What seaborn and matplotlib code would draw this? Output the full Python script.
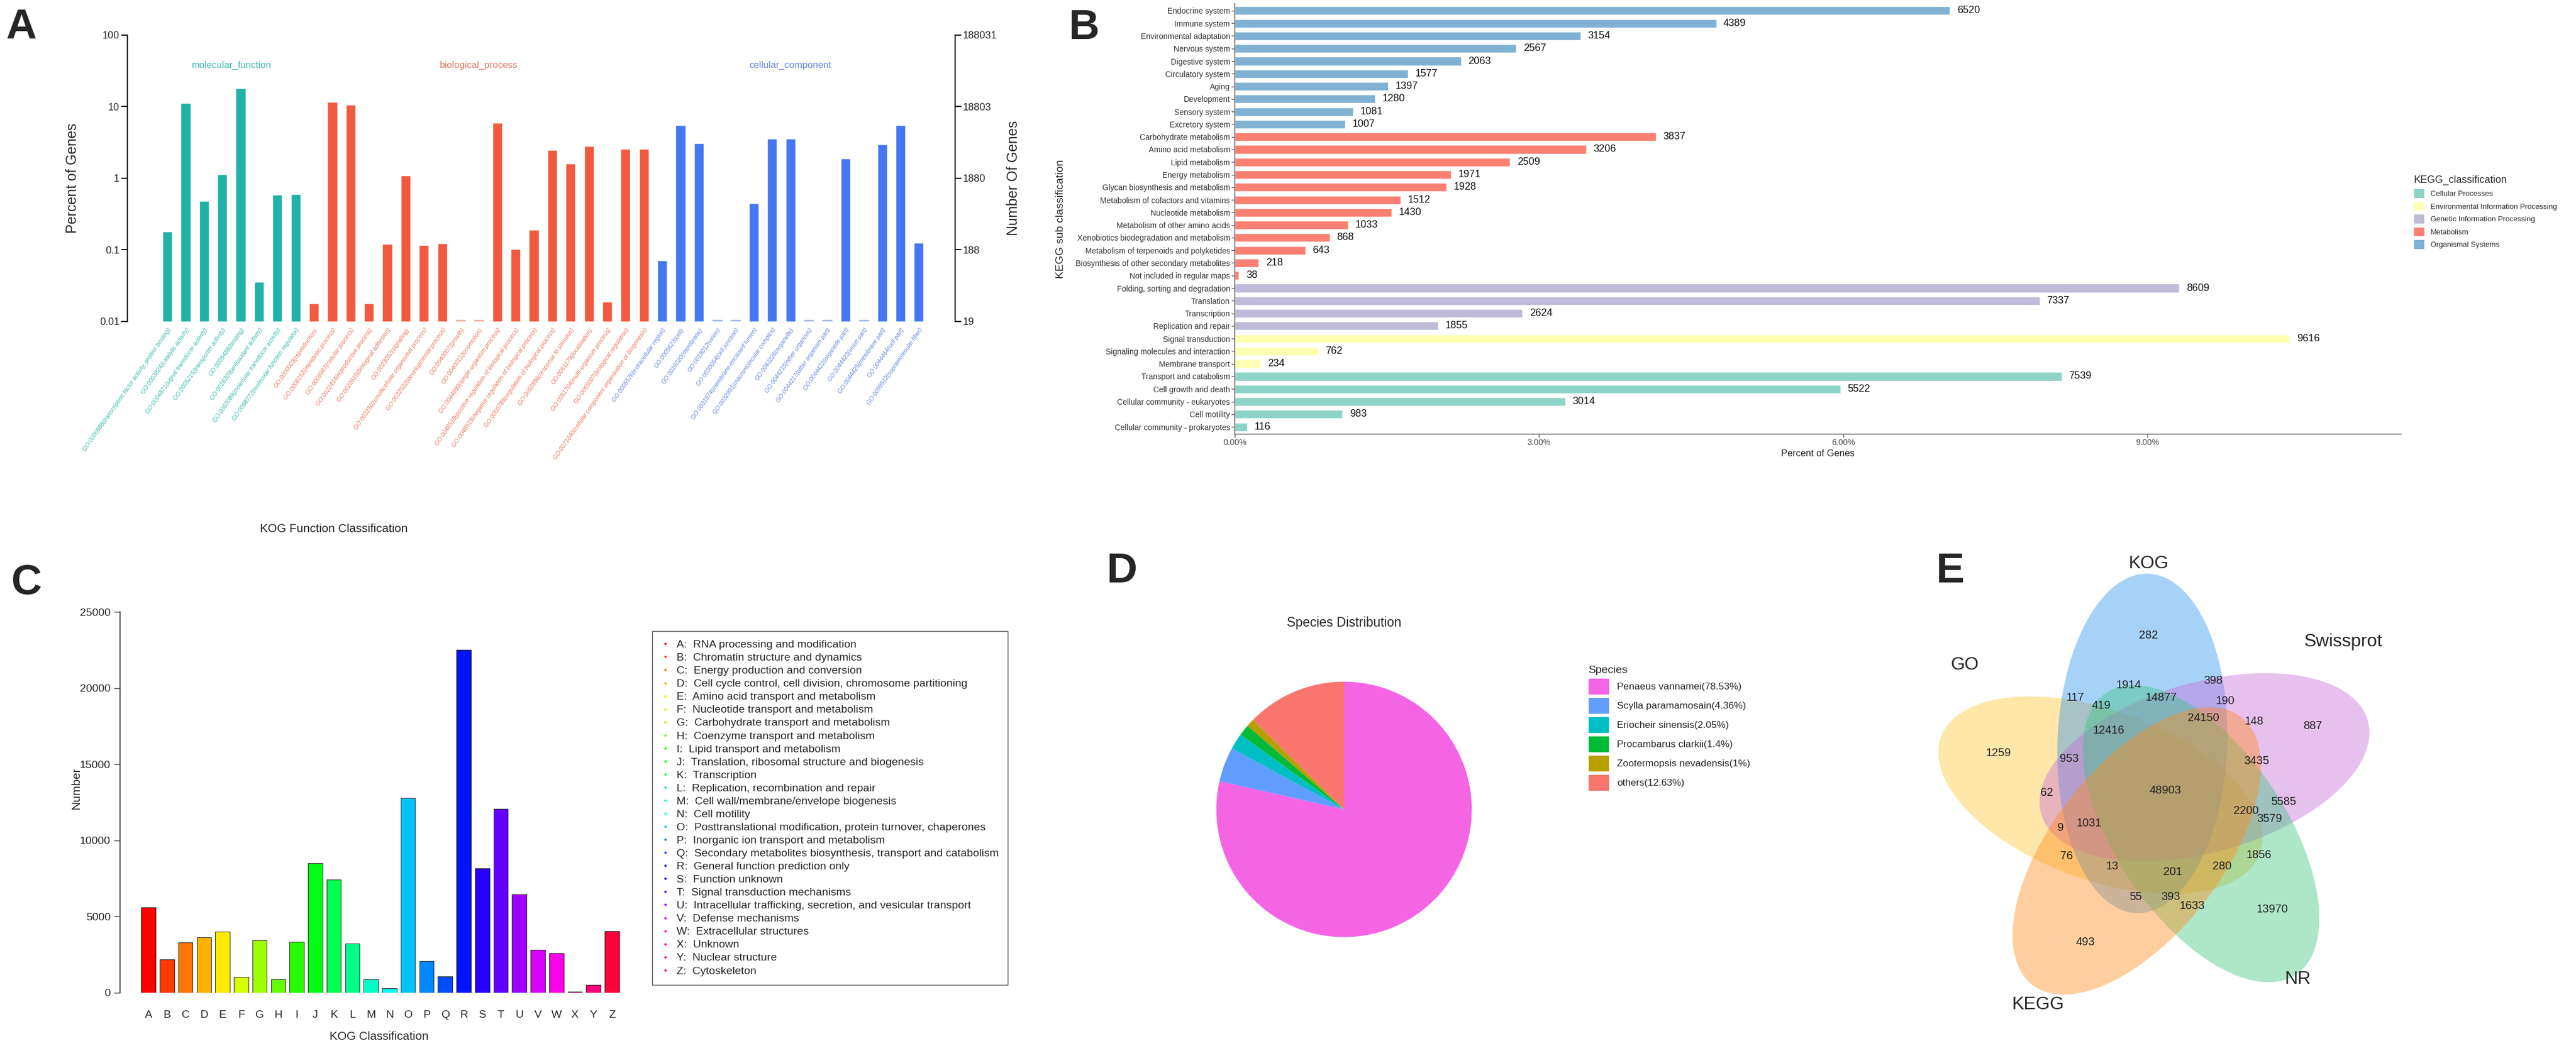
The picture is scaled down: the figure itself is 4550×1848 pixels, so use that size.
import numpy as np
import pandas as pd
import matplotlib
matplotlib.use("Agg")
import matplotlib.pyplot as plt
import seaborn as sns
from matplotlib.patches import Ellipse, Patch
from matplotlib.lines import Line2D
from matplotlib.ticker import NullLocator

sns.set_theme(style="white")
plt.rcParams['font.family'] = ['Liberation Sans', 'DejaVu Sans']
NARROW = ['Liberation Sans Narrow', 'Liberation Sans', 'DejaVu Sans']

W, H = 4550, 1848
fig = plt.figure(figsize=(W / 100, H / 100), dpi=100)


def px_axes(x0, y0, x1, y1):
    return fig.add_axes([x0 / W, 1 - y1 / H, (x1 - x0) / W, (y1 - y0) / H])


# ── Panel A data: GO level 2 ──
go_mf_terms = ["GO:0000988(transcription factor activity, protein binding)", "GO:0003824(catalytic activity)",
               "GO:0004871(signal transducer activity)", "GO:0005215(transporter activity)",
               "GO:0005488(binding)", "GO:0016209(antioxidant activity)",
               "GO:0060089(molecular transducer activity)", "GO:0098772(molecular function regulator)"]
go_mf_pct = [0.18, 11.3, 0.48, 1.13, 18.1, 0.036, 0.59, 0.60]

go_bp_terms = ["GO:0000003(reproduction)", "GO:0008152(metabolic process)", "GO:0009987(cellular process)",
               "GO:0022414(reproductive process)", "GO:0022610(biological adhesion)", "GO:0023052(signaling)",
               "GO:0032501(multicellular organismal process)", "GO:0032502(developmental process)",
               "GO:0040007(growth)", "GO:0040011(locomotion)", "GO:0044699(single-organism process)",
               "GO:0048518(positive regulation of biological process)",
               "GO:0048519(negative regulation of biological process)",
               "GO:0050789(regulation of biological process)", "GO:0050896(response to stimulus)",
               "GO:0051179(localization)", "GO:0051704(multi-organism process)",
               "GO:0065007(biological regulation)", "GO:0071840(cellular component organization or biogenesis)"]
go_bp_pct = [0.018, 11.7, 10.7, 0.018, 0.12, 1.1, 0.117, 0.123, 0, 0, 6.0, 0.103, 0.19,
             2.5, 1.6, 2.8, 0.019, 2.6, 2.6]

go_cc_terms = ["GO:0005576(extracellular region)", "GO:0005623(cell)", "GO:0016020(membrane)",
               "GO:0019012(virion)", "GO:0030054(cell junction)", "GO:0031974(membrane-enclosed lumen)",
               "GO:0032991(macromolecular complex)", "GO:0043226(organelle)", "GO:0044215(other organism)",
               "GO:0044217(other organism part)", "GO:0044422(organelle part)", "GO:0044423(virion part)",
               "GO:0044425(membrane part)", "GO:0044464(cell part)", "GO:0099512(supramolecular fiber)"]
go_cc_pct = [0.071, 5.5, 3.1, 0, 0, 0.45, 3.6, 3.6, 0, 0, 1.9, 0, 3.0, 5.5, 0.126]

total_genes = 188031

# ── Panel B data: KEGG ──
kegg_sub = ["Endocrine system", "Immune system", "Environmental adaptation", "Nervous system",
            "Digestive system", "Circulatory system", "Aging", "Development", "Sensory system",
            "Excretory system", "Carbohydrate metabolism", "Amino acid metabolism", "Lipid metabolism",
            "Energy metabolism", "Glycan biosynthesis and metabolism", "Metabolism of cofactors and vitamins",
            "Nucleotide metabolism", "Metabolism of other amino acids",
            "Xenobiotics biodegradation and metabolism", "Metabolism of terpenoids and polyketides",
            "Biosynthesis of other secondary metabolites", "Not included in regular maps",
            "Folding, sorting and degradation", "Translation", "Transcription", "Replication and repair",
            "Signal transduction", "Signaling molecules and interaction", "Membrane transport",
            "Transport and catabolism", "Cell growth and death", "Cellular community - eukaryotes",
            "Cell motility", "Cellular community - prokaryotes"]
kegg_counts = [6520, 4389, 3154, 2567, 2063, 1577, 1397, 1280, 1081, 1007,
               3837, 3206, 2509, 1971, 1928, 1512, 1430, 1033, 868, 643, 218, 38,
               8609, 7337, 2624, 1855,
               9616, 762, 234,
               7539, 5522, 3014, 983, 116]
kegg_class = (["Organismal Systems"] * 10 + ["Metabolism"] * 12 + ["Genetic Information Processing"] * 4
              + ["Environmental Information Processing"] * 3 + ["Cellular Processes"] * 5)
kegg_order = ["Cellular Processes", "Environmental Information Processing", "Genetic Information Processing",
              "Metabolism", "Organismal Systems"]

# ── Panel C data: KOG ──
kog_letters = list("ABCDEFGHIJKLMNOPQRSTUVWXYZ")
kog_counts = [5620, 2180, 3310, 3650, 4030, 1040, 3470, 890, 3350, 8500, 7440, 3240, 910,
              300, 12780, 2080, 1080, 22520, 8180, 12060, 6460, 2820, 2590, 60, 530, 4050]
kog_desc = ["RNA processing and modification", "Chromatin structure and dynamics",
            "Energy production and conversion", "Cell cycle control, cell division, chromosome partitioning",
            "Amino acid transport and metabolism", "Nucleotide transport and metabolism",
            "Carbohydrate transport and metabolism", "Coenzyme transport and metabolism",
            "Lipid transport and metabolism", "Translation, ribosomal structure and biogenesis",
            "Transcription", "Replication, recombination and repair",
            "Cell wall/membrane/envelope biogenesis", "Cell motility",
            "Posttranslational modification, protein turnover, chaperones",
            "Inorganic ion transport and metabolism",
            "Secondary metabolites biosynthesis, transport and catabolism",
            "General function prediction only", "Function unknown", "Signal transduction mechanisms",
            "Intracellular trafficking, secretion, and vesicular transport", "Defense mechanisms",
            "Extracellular structures", "Unknown", "Nuclear structure", "Cytoskeleton"]

# ── Panel D data: species ──
species = ["Penaeus vannamei", "Scylla paramamosain", "Eriocheir sinensis", "Procambarus clarkii",
           "Zootermopsis nevadensis", "others"]
species_pct = [78.53, 4.36, 2.05, 1.4, 1.0, 12.63]

# ── Panel E data: Venn ──
venn_sets = ["GO", "KOG", "Swissprot", "NR", "KEGG"]
venn_counts = [282, 1914, 398, 14877, 190, 419, 24150, 148, 887, 12416, 3435, 48903, 5585, 2200,
               3579, 1856, 13, 201, 280, 55, 393, 1633, 13970, 117, 953, 62, 9, 1031, 76, 1259, 493]
# text positions of the region counts (pixels)
venn_xy = [(3795, 1122), (3760, 1211), (3909, 1203), (3817, 1232), (3930, 1238), (3711, 1247),
           (3892, 1269), (3981, 1274), (4085, 1282), (3724, 1291), (3986, 1345), (3825, 1397),
           (4034, 1417), (3967, 1432), (4009, 1447), (3990, 1511), (3731, 1530), (3838, 1541),
           (3925, 1530), (3772, 1584), (3834, 1584), (3872, 1600), (4013, 1606), (3665, 1232),
           (3655, 1340), (3615, 1400), (3640, 1462), (3690, 1454), (3650, 1512), (3530, 1330),
           (3683, 1665)]

# ════════════════ Panel A ════════════════
go_terms = go_mf_terms + go_bp_terms + go_cc_terms
go_pct = go_mf_pct + go_bp_pct + go_cc_pct
go_cat = (["molecular_function"] * len(go_mf_terms) + ["biological_process"] * len(go_bp_terms)
          + ["cellular_component"] * len(go_cc_terms))
go_df = pd.DataFrame({"term": go_terms, "pct": go_pct, "cat": go_cat})
go_colors = {"molecular_function": "#20B2A6", "biological_process": "#F15A3F",
             "cellular_component": "#4577F2"}
go_text_colors = {"molecular_function": "#3DB8AE", "biological_process": "#EA7560",
                  "cellular_component": "#6486E0"}

axA = px_axes(225, 62, 1687, 568)
sns.barplot(data=go_df, x="term", y="pct", hue="cat", palette=go_colors, dodge=False,
            width=0.53, saturation=1, legend=False, ax=axA)
axA.set_yscale("log")
axA.set_ylim(0.01, 100)
n_go = len(go_terms)
axA.set_xlim(-2.18, n_go - 1 + 1.98)
for i, (v, c) in enumerate(zip(go_pct, go_cat)):
    if v == 0:
        axA.hlines(0.0104, i - 0.27, i + 0.27, color=go_text_colors[c], lw=2, alpha=0.6)
axA.set_yticks([0.01, 0.1, 1, 10, 100])
axA.set_yticklabels(["0.01", "0.1", "1", "10", "100"], family=NARROW)
axA.yaxis.set_minor_locator(NullLocator())
axA.tick_params(axis="y", left=True, length=8, width=1.5, labelsize=13, color="black", pad=2)
axA.tick_params(axis="x", bottom=False, length=0, pad=7)
axA.set_xticks(range(n_go))
axA.set_xticklabels(go_terms, rotation=55, ha="right", va="top", rotation_mode="anchor",
                    fontsize=7.6, fontstyle="italic", family=NARROW)
for lab, c in zip(axA.get_xticklabels(), go_cat):
    lab.set_color(go_text_colors[c])
for s in ["top", "right", "bottom"]:
    axA.spines[s].set_visible(False)
axA.spines["left"].set_color("black")
axA.spines["left"].set_linewidth(1.5)
axA.set_xlabel("")
axA.set_ylabel("Percent of Genes", fontsize=18, labelpad=26)

for cat in ["molecular_function", "biological_process", "cellular_component"]:
    idx = [i for i, c in enumerate(go_cat) if c == cat]
    axA.text(np.mean(idx), 38, cat, color=go_text_colors[cat], ha="center", va="center",
             fontsize=12, family=NARROW)

axA2 = axA.twinx()
axA2.set_yscale("log")
axA2.set_ylim(total_genes * 1e-4, total_genes)
rt = [total_genes / 10 ** k for k in range(5)]
axA2.set_yticks(rt)
axA2.set_yticklabels([f"{round(t)}" for t in rt], family=NARROW)
axA2.yaxis.set_minor_locator(NullLocator())
axA2.tick_params(axis="y", right=True, length=8, width=1.5, labelsize=13, color="black", pad=2)
for s in ["top", "left", "bottom"]:
    axA2.spines[s].set_visible(False)
axA2.spines["right"].set_color("black")
axA2.spines["right"].set_linewidth(1.5)
axA2.set_ylabel("Number Of Genes", fontsize=18, labelpad=12)
axA2.grid(False)

fig.text(590 / W, 1 - 935 / H, "KOG Function Classification", fontsize=15, ha="center", va="center")

# ════════════════ Panel B ════════════════
kegg_df = pd.DataFrame({"sub": kegg_sub, "count": kegg_counts, "cls": kegg_class})
kegg_df["pct"] = kegg_df["count"] / kegg_df["count"].sum() * 100
kegg_colors = {"Cellular Processes": "#8DD3C7", "Environmental Information Processing": "#FFFFB3",
               "Genetic Information Processing": "#BEBADA", "Metabolism": "#FB8072",
               "Organismal Systems": "#80B1D3"}

axB = px_axes(2181, 6, 4241, 767)
sns.barplot(data=kegg_df, x="pct", y="sub", hue="cls", palette=kegg_colors, dodge=False,
            width=0.68, saturation=1, legend=False, orient="h", ax=axB)
for i, (p, c) in enumerate(zip(kegg_df["pct"], kegg_df["count"])):
    axB.text(p + 0.07, i, f"{c}", va="center", ha="left", fontsize=13, family=NARROW, color="#111")
axB.set_xlim(0, 11.5)
axB.set_ylim(len(kegg_sub) - 1 + 0.58, -0.58)
axB.set_xticks([0, 3, 6, 9])
axB.set_xticklabels([f"{t:.2f}%" for t in [0, 3, 6, 9]], fontsize=10.5, color="#444", family=NARROW)
axB.set_yticks(range(len(kegg_sub)))
axB.set_yticklabels(kegg_sub, fontsize=10, color="#333", family=NARROW)
axB.tick_params(axis="both", left=True, bottom=True, length=4, width=1, color="#555", pad=2)
for s in ["top", "right"]:
    axB.spines[s].set_visible(False)
for s in ["left", "bottom"]:
    axB.spines[s].set_color("#666")
    axB.spines[s].set_linewidth(1.2)
axB.set_xlabel("Percent of Genes", fontsize=12, labelpad=3)
axB.set_ylabel("KEGG sub classification", fontsize=14)
axB.yaxis.set_label_coords(-0.145, 0.5)

kegg_handles = [Patch(facecolor=kegg_colors[c], edgecolor="none") for c in kegg_order]
fig.legend(kegg_handles, kegg_order, title="KEGG_classification", loc="upper left",
           bbox_to_anchor=(4252 / W, 1 - 298 / H), frameon=False, fontsize=9.5, title_fontsize=13,
           handlelength=1.4, handleheight=1.4, labelspacing=0.55, alignment="left")

# ════════════════ Panel C ════════════════
kog_df = pd.DataFrame({"letter": kog_letters, "count": kog_counts})
kog_pal = sns.hls_palette(len(kog_letters), h=0, l=0.5, s=1)
kog_map = dict(zip(kog_letters, kog_pal))

axC = px_axes(212, 1060, 1120, 1754)
sns.barplot(data=kog_df, x="letter", y="count", hue="letter", palette=kog_map, dodge=False,
            width=0.78, saturation=1, legend=False, edgecolor="#333", linewidth=0.8, ax=axC)
axC.set_xlim(-1.53, len(kog_letters) - 1 + 1.19)
axC.set_ylim(0, 25000 * 694 / 673)
axC.set_yticks(range(0, 25001, 5000))
axC.set_yticklabels([str(t) for t in range(0, 25001, 5000)], fontsize=14, family=NARROW)
axC.tick_params(axis="y", left=True, length=8, width=1, color="#333", pad=4)
axC.tick_params(axis="x", bottom=False, length=0, pad=22, labelsize=14)
for lab in axC.get_xticklabels():
    lab.set_family(NARROW)
for s in ["top", "right", "bottom"]:
    axC.spines[s].set_visible(False)
axC.spines["left"].set_bounds(0, 25000)
axC.spines["left"].set_color("#333")
axC.set_xlabel("KOG Classification", fontsize=15, family=NARROW)
axC.xaxis.set_label_coords(0.504, -0.098)
axC.set_ylabel("Number", fontsize=15)
axC.yaxis.set_label_coords(-0.075, 0.52)

kog_handles = [Line2D([0], [0], marker="o", ls="", markersize=2, color=kog_map[k]) for k in kog_letters]
kog_labels = [f"{k}:  {d}" for k, d in zip(kog_letters, kog_desc)]
fig.legend(kog_handles, kog_labels, loc="upper left", bbox_to_anchor=(1152 / W, 1 - 1115 / H),
           frameon=True, fancybox=False, edgecolor="#555", framealpha=1, fontsize=14,
           handlelength=0.8, handletextpad=0.6, labelspacing=0.28, borderpad=0.8, borderaxespad=0)

# ════════════════ Panel D ════════════════
species_colors = ["#F564E3", "#619CFF", "#00BFC4", "#00BA38", "#B79F00", "#F8766D"]
pie_cx, pie_cy, pie_r = 2374, 1430, 282
axD = px_axes(pie_cx - pie_r, pie_cy - pie_r, pie_cx + pie_r, pie_cy + pie_r)
axD.pie(species_pct, colors=species_colors, startangle=90, counterclock=False,
        wedgeprops={"linewidth": 0})
axD.set_aspect("equal")
fig.text(pie_cx / W, 1 - 1100 / H, "Species Distribution", fontsize=16.5, ha="center", va="center")
sp_handles = [Patch(facecolor=c, edgecolor="none") for c in species_colors]
sp_labels = [f"{s}({p:g}%)" for s, p in zip(species, species_pct)]
fig.legend(sp_handles, sp_labels, title="Species", loc="upper left",
           bbox_to_anchor=(2790 / W, 1 - 1160 / H), frameon=False, fontsize=12.5, title_fontsize=14,
           handlelength=2.1, handleheight=2.1, labelspacing=0.35, alignment="left")

# ════════════════ Panel E & labels (pixel overlay) ════════════════
ov = fig.add_axes([0, 0, 1, 1])
ov.set_xlim(0, W)
ov.set_ylim(0, H)
ov.axis("off")
ov.patch.set_alpha(0)


def Y(y):
    return H - y


venn_colors = {"GO": "#FFC533", "KOG": "#2E94F0", "Swissprot": "#C86DD7", "NR": "#3CC47F",
               "KEGG": "#FF8C1A"}
venn_tip_angle = {"KOG": 90, "Swissprot": 18, "NR": -54, "KEGG": -126, "GO": 162}
ox, oy = 3810, Y(1410)
a_ax, b_ax, d_off = 300, 150, 100
for name in venn_sets:
    phi = venn_tip_angle[name]
    cx = ox + d_off * np.cos(np.radians(phi + 15))
    cy = oy + d_off * np.sin(np.radians(phi + 15))
    ov.add_patch(Ellipse((cx, cy), 2 * a_ax, 2 * b_ax, angle=phi - 2,
                         facecolor=venn_colors[name], alpha=0.42, edgecolor="none"))

venn_label_xy = {"KOG": (3795, 996), "Swissprot": (4139, 1134), "NR": (4058, 1730),
                 "GO": (3470, 1175), "KEGG": (3600, 1775)}
for name in venn_sets:
    x, y = venn_label_xy[name]
    ov.text(x, Y(y), name, fontsize=23, ha="center", va="center")
for cnt, (x, y) in zip(venn_counts, venn_xy):
    ov.text(x, Y(y), str(cnt), fontsize=14.5, ha="center", va="center", color="#222")

for lab, (x, y) in {"A": (10, 14), "B": (1888, 15), "C": (20, 995), "D": (1955, 975),
                    "E": (3420, 975)}.items():
    ov.text(x, Y(y), lab, fontsize=54, fontweight="bold", ha="left", va="top")

fig.savefig("out.png", dpi=100, facecolor="white")
